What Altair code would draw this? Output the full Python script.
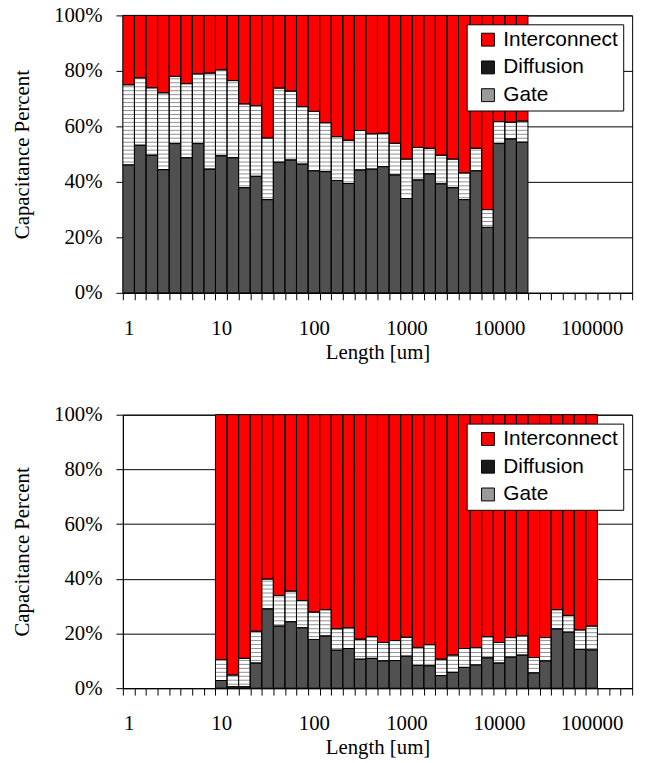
import altair as alt
import pandas as pd

# ---------------- data ----------------
N_BINS = 44
TICK_POS = [0, 8, 16, 24, 32, 40]
TICK_LABELS = ["1", "10", "100", "1000", "10000", "100000"]
SERIES = ["Interconnect", "Diffusion", "Gate"]
BAR_COLORS = {"Interconnect": "#ff0000", "Diffusion": "#ffffff", "Gate": "#505050"}
LEGEND_COLORS = ["#ff0000", "#1a1a1a", "#9a9a9a"]

TOP_BINS = list(range(0, 35))
TOP_GATE = [46.1, 53.2, 49.6, 44.4, 53.8, 48.7, 53.8, 44.6, 49.4, 48.7, 37.9, 42.0,
            33.6, 47.1, 47.9, 46.4, 44.0, 43.7, 40.5, 39.4, 44.3, 44.6, 45.5, 42.5,
            34.0, 40.7, 42.9, 39.3, 37.9, 33.6, 44.0, 23.6, 53.8, 55.5, 54.3]
TOP_DIFF = [28.9, 24.3, 24.3, 27.7, 24.2, 26.7, 25.1, 34.6, 31.0, 27.8, 30.2, 25.5,
            22.2, 26.7, 24.8, 20.7, 21.4, 17.6, 15.8, 15.6, 14.2, 12.7, 12.0, 11.4,
            14.2, 11.7, 9.2, 10.3, 10.3, 9.6, 8.1, 6.4, 7.9, 6.0, 7.6]
TOP_INTER = [25.0, 22.5, 26.1, 27.9, 22.0, 24.6, 21.1, 20.8, 19.6, 23.5, 31.9, 32.5,
             44.2, 26.2, 27.3, 32.9, 34.6, 38.7, 43.7, 45.0, 41.5, 42.7, 42.5, 46.1,
             51.8, 47.6, 47.9, 50.4, 51.8, 56.8, 47.9, 70.0, 38.3, 38.5, 38.1]

BOT_BINS = list(range(8, 41))
BOT_GATE = [2.8, 0.5, 0.5, 9.2, 29.0, 22.7, 24.3, 22.1, 17.8, 19.1, 13.9, 14.5,
            10.6, 10.9, 10.0, 10.1, 11.7, 8.3, 8.2, 4.6, 5.8, 7.6, 8.5, 11.1,
            9.2, 11.4, 12.1, 5.6, 10.0, 21.7, 20.5, 14.2, 14.0]
BOT_DIFF = [7.6, 4.3, 10.4, 11.6, 10.9, 11.2, 11.2, 9.9, 10.0, 9.6, 7.8, 7.6,
            7.3, 7.9, 6.7, 7.3, 6.9, 6.6, 7.7, 6.0, 6.3, 6.9, 6.3, 7.7,
            7.5, 7.1, 7.0, 5.6, 8.5, 7.0, 6.1, 7.1, 8.7]
BOT_INTER = [89.6, 95.2, 89.1, 79.2, 60.1, 66.1, 64.5, 68.0, 72.2, 71.3, 78.3, 77.9,
             82.1, 81.2, 83.3, 82.6, 81.4, 85.1, 84.1, 89.4, 87.9, 85.5, 85.2, 81.2,
             83.3, 81.5, 80.9, 88.8, 81.5, 71.3, 73.4, 78.7, 77.3]

SERIF = "Liberation Serif"
SANS = "Liberation Sans"


def panel(bins, gate, diff, inter, w, h):
    rows = []
    for b, g, d, ic in zip(bins, gate, diff, inter):
        for s, v, o in (("Gate", g, 0), ("Diffusion", d, 1), ("Interconnect", ic, 2)):
            rows.append({"bin": b, "bin1": b + 1, "series": s, "value": v, "order": o,
                         "col": BAR_COLORS[s]})
    df = pd.DataFrame(rows)

    # horizontal hatch of the diffusion pattern (every 4 px)
    step = 100.0 / h * 4
    srows = []
    for b, g, d in zip(bins, gate, diff):
        k = 1
        while k * step < 100:
            lv = k * step
            if g + 0.35 < lv < g + d - 0.35:
                srows.append({"bin": b, "bin1": b + 1, "lvl": lv})
            k += 1
    sdf = pd.DataFrame(srows)

    xscale = alt.Scale(domain=[0, N_BINS], nice=False, zero=False)
    yscale = alt.Scale(domain=[0, 100], nice=False, zero=True)
    pos_list = "[" + ",".join(str(p) for p in TICK_POS) + "]"
    lab_list = "[" + ",".join("'" + t + "'" for t in TICK_LABELS) + "]"
    xaxis = alt.Axis(
        values=list(range(N_BINS + 1)),
        labelExpr=f"indexof({pos_list}, datum.value) >= 0 ? {lab_list}[indexof({pos_list}, datum.value)] : ''",
        labelOffset=w / N_BINS / 2.0, labelFlush=False, labelOverlap=False, labelBound=False,
        grid=False, tickColor="black", tickSize=7, tickWidth=1, domainColor="black", domainWidth=1,
        labelFont=SERIF, labelFontSize=21, labelColor="black", labelPadding=18,
        titleFont=SERIF, titleFontSize=21, titleFontWeight="normal", titleColor="black",
        titlePadding=3,
    )
    yaxis = alt.Axis(
        values=[0, 20, 40, 60, 80, 100], labelExpr="datum.value + '%'",
        grid=True, gridColor="black", gridWidth=1, gridOpacity=1,
        tickColor="black", tickSize=7, tickWidth=1, domainColor="black", domainWidth=1,
        labelFont=SERIF, labelFontSize=21, labelColor="black", labelPadding=14,
        titleFont=SERIF, titleFontSize=21, titleFontWeight="normal", titleColor="black",
        titlePadding=21,
    )

    def X(field):
        return alt.X(field, type="quantitative", scale=xscale, axis=xaxis, title="Length [um]")

    def Y(field):
        return alt.Y(field, type="quantitative", scale=yscale, axis=yaxis, title="Capacitance Percent")

    base = alt.Chart(df).transform_stack(
        stack="value", groupby=["bin"], as_=["y0", "y1"], sort=[alt.SortField("order")]
    )
    fills = base.mark_bar(strokeWidth=0, opacity=1).encode(
        x=X("bin"), x2="bin1:Q", y=Y("y0"), y2="y1:Q",
        fill=alt.Fill("col:N", scale=None),
    )
    stripes = alt.Chart(sdf).mark_rule(color="#8f8f8f", strokeWidth=1).encode(
        x=X("bin"), x2="bin1:Q", y=Y("lvl"),
    )
    outline = base.mark_bar(filled=False, stroke="black", strokeWidth=1, opacity=1).encode(
        x=X("bin"), x2="bin1:Q", y=Y("y0"), y2="y1:Q",
    )
    leg_df = pd.DataFrame({"series": SERIES, "bin": [1, 1, 1], "lvl": [-50, -50, -50]})
    legend_layer = alt.Chart(leg_df).mark_square(
        clip=True, size=4, opacity=1, stroke="black", strokeWidth=1
    ).encode(
        x=X("bin"), y=Y("lvl"),
        color=alt.Color(
            "series:N",
            scale=alt.Scale(domain=SERIES, range=LEGEND_COLORS),
            legend=alt.Legend(
                title=None, orient="top-right", offset=9, fillColor="white", strokeColor="black",
                padding=5, symbolType="square", symbolSize=169, symbolStrokeColor="black",
                symbolStrokeWidth=1, symbolOffset=6, symbolOpacity=1,
                labelFont=SANS, labelFontSize=21, labelColor="black", labelOffset=5,
                labelLimit=300, rowPadding=6,
            ),
        ),
    )
    return alt.layer(fills, stripes, outline, legend_layer).properties(width=w, height=h)


top = panel(TOP_BINS, TOP_GATE, TOP_DIFF, TOP_INTER, 514, 280)
bottom = panel(BOT_BINS, BOT_GATE, BOT_DIFF, BOT_INTER, 514, 276)

chart = alt.vconcat(top, bottom, spacing=40).resolve_scale(
    color="independent"
).resolve_legend(color="independent").properties(
    padding={"left": 11, "top": 0, "right": 8, "bottom": 2},
    background="white",
).configure_view(stroke="black", strokeWidth=1)

chart.save("out.html", embed_options={"renderer": "svg", "actions": False})
